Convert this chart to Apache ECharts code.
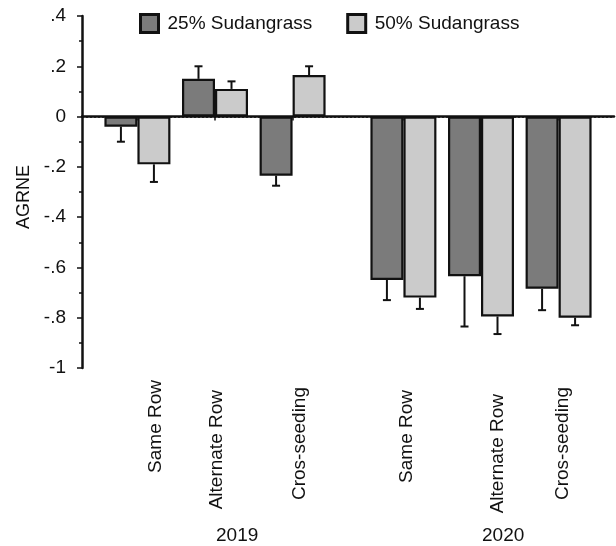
<!DOCTYPE html>
<html>
<head>
<meta charset="utf-8">
<script src="https://cdn.jsdelivr.net/npm/echarts@6/dist/echarts.min.js"></script>
<style>
  html, body { margin: 0; padding: 0; background: #fff; }
  #chart { width: 616px; height: 546px; }
</style>
</head>
<body>
<div id="chart"></div>
<script>
// ---- data ----
const treatments = ['Same Row', 'Alternate Row', 'Cros-seeding', 'Same Row', 'Alternate Row', 'Cros-seeding'];
const years = ['2019', '2020'];
const seriesNames = ['25% Sudangrass', '50% Sudangrass'];
const agrne25 = [-0.04, 0.15, -0.235, -0.65, -0.635, -0.685];
const err25   = [0.06, 0.05, 0.04, 0.08, 0.2, 0.085];
const agrne50 = [-0.19, 0.11, 0.165, -0.72, -0.795, -0.80];
const err50   = [0.07, 0.03, 0.035, 0.045, 0.07, 0.03];
const yTicks = [0.4, 0.2, 0, -0.2, -0.4, -0.6, -0.8, -1];

// ---- layout helpers (fine category slots so the gap between years is wider) ----
const N_SLOTS = 49;
const groupSlot = [5, 12, 19, 29, 36, 43];
const yearSlot = [14, 38];
// hand-placed label nudges seen in the original figure: [shift right px, extra gap from axis px]
const labelNudge = [[18, 2], [2, 12], [7, 9], [3, 12], [17, 16], [4, 9]];

const cats = new Array(N_SLOTS).fill('');
groupSlot.forEach((s, i) => { cats[s] = treatments[i]; });
const yearCats = new Array(N_SLOTS).fill('');
yearSlot.forEach((s, i) => { yearCats[s] = years[i]; });

function slotData(vals) {
  const arr = new Array(N_SLOTS).fill(null);
  groupSlot.forEach((s, i) => { arr[s] = vals[i]; });
  return arr;
}
function errData(vals, errs) {
  return groupSlot.map((s, i) => [s, vals[i], errs[i]]);
}

const FONT = 'Liberation Sans, Arial, sans-serif';
const FS = 19;
const BAR_W = 33;
const colors = ['#7b7b7b', '#cbcbcb'];
const INK = '#111';

function fmtY(v) {
  const r = Math.round(v * 10) / 10;
  if (r === 0) return '0';
  const a = Math.abs(r);
  const s = a === 1 ? '1' : a.toFixed(1).replace(/^0/, '');
  return (r < 0 ? '-' : '') + s;
}

const rich = {};
labelNudge.forEach((n, i) => {
  rich['t' + i] = { fontSize: FS, fontFamily: FONT, color: INK, padding: [0, n[1], 0, 0] };
  rich['p' + i] = { fontSize: 1, lineHeight: Math.max(1, 2 * n[0]), color: 'rgba(0,0,0,0)' };
});
function fmtX(value, index) {
  const i = groupSlot.indexOf(index);
  if (i < 0) return '';
  return '{p' + i + '| }\n{t' + i + '|' + value + '}';
}

function errRender(offset) {
  return function (params, api) {
    const x = api.value(0), v = api.value(1), e = api.value(2);
    const sign = v < 0 ? -1 : 1;
    const p = api.coord([x, v]);
    const q = api.coord([x, v + sign * e]);
    const cx = p[0] + offset;
    const style = { stroke: INK, lineWidth: 2 };
    return {
      type: 'group',
      children: [
        { type: 'line', shape: { x1: cx, y1: p[1], x2: cx, y2: q[1] }, style },
        { type: 'line', shape: { x1: cx - 4, y1: q[1], x2: cx + 4, y2: q[1] }, style }
      ]
    };
  };
}

const chart = echarts.init(document.getElementById('chart'), null, { renderer: 'canvas' });
chart.setOption({
  animation: false,
  backgroundColor: '#fff',
  textStyle: { fontFamily: FONT },
  legend: {
    top: 8,
    left: 134,
    itemWidth: 18,
    itemHeight: 18,
    itemGap: 34,
    icon: 'rect',
    textStyle: { fontSize: FS, color: INK, fontFamily: FONT, padding: [0, 0, 0, 4] },
    data: [
      { name: seriesNames[0], itemStyle: { color: colors[0], borderColor: INK, borderWidth: 3 } },
      { name: seriesNames[1], itemStyle: { color: colors[1], borderColor: INK, borderWidth: 3 } }
    ]
  },
  grid: { left: 82, right: 2, top: 16, bottom: 178, containLabel: false },
  xAxis: [{
    type: 'category',
    data: cats,
    boundaryGap: false,
    axisLine: { lineStyle: { color: INK, width: 2.5 } },
    axisTick: { show: true, length: 4, interval: (i, v) => v !== '', lineStyle: { color: INK, width: 1.5 } },
    axisLabel: {
      interval: (i, v) => v !== '',
      rotate: 90,
      margin: 10,
      fontSize: FS,
      color: INK,
      fontFamily: FONT,
      formatter: fmtX,
      rich: rich
    },
    splitLine: { show: false }
  }, {
    type: 'category',
    data: yearCats,
    boundaryGap: false,
    position: 'bottom',
    offset: 150,
    axisLine: { show: false },
    axisTick: { show: false },
    axisLabel: { interval: (i, v) => v !== '', fontSize: FS, color: INK, fontFamily: FONT, margin: 8 },
    splitLine: { show: false }
  }],
  yAxis: {
    type: 'value',
    min: -1,
    max: 0.4,
    interval: 0.2,
    name: 'AGRNE',
    nameLocation: 'middle',
    nameRotate: 90,
    nameGap: 46,
    nameTextStyle: { fontSize: FS - 1, color: INK, fontFamily: FONT, padding: [0, 10, 0, 0] },
    axisLine: { show: true, lineStyle: { color: INK, width: 2.5 } },
    axisTick: { show: true, length: 5, lineStyle: { color: INK, width: 1.5 } },
    minorTick: { show: true, splitNumber: 2, length: 3, lineStyle: { color: INK, width: 1.5 } },
    axisLabel: { formatter: fmtY, fontSize: FS, color: INK, fontFamily: FONT, margin: 16 },
    splitLine: { show: false }
  },
  series: [
    {
      name: seriesNames[0],
      type: 'bar',
      data: slotData(agrne25),
      barWidth: BAR_W,
      barGap: '0%',
      itemStyle: { color: colors[0], borderColor: INK, borderWidth: 2.2 },
      markLine: {
        silent: true,
        symbol: 'none',
        label: { show: false },
        lineStyle: { color: INK, type: [2, 2], width: 1.5 },
        data: [{ yAxis: 0 }],
        z: 1
      },
      z: 3
    },
    {
      name: seriesNames[1],
      type: 'bar',
      data: slotData(agrne50),
      barWidth: BAR_W,
      barGap: '0%',
      itemStyle: { color: colors[1], borderColor: INK, borderWidth: 2.2 },
      z: 3
    },
    {
      type: 'custom',
      renderItem: errRender(-BAR_W / 2),
      data: errData(agrne25, err25),
      z: 4,
      silent: true
    },
    {
      type: 'custom',
      renderItem: errRender(BAR_W / 2),
      data: errData(agrne50, err50),
      z: 4,
      silent: true
    }
  ]
});
</script>
</body>
</html>
